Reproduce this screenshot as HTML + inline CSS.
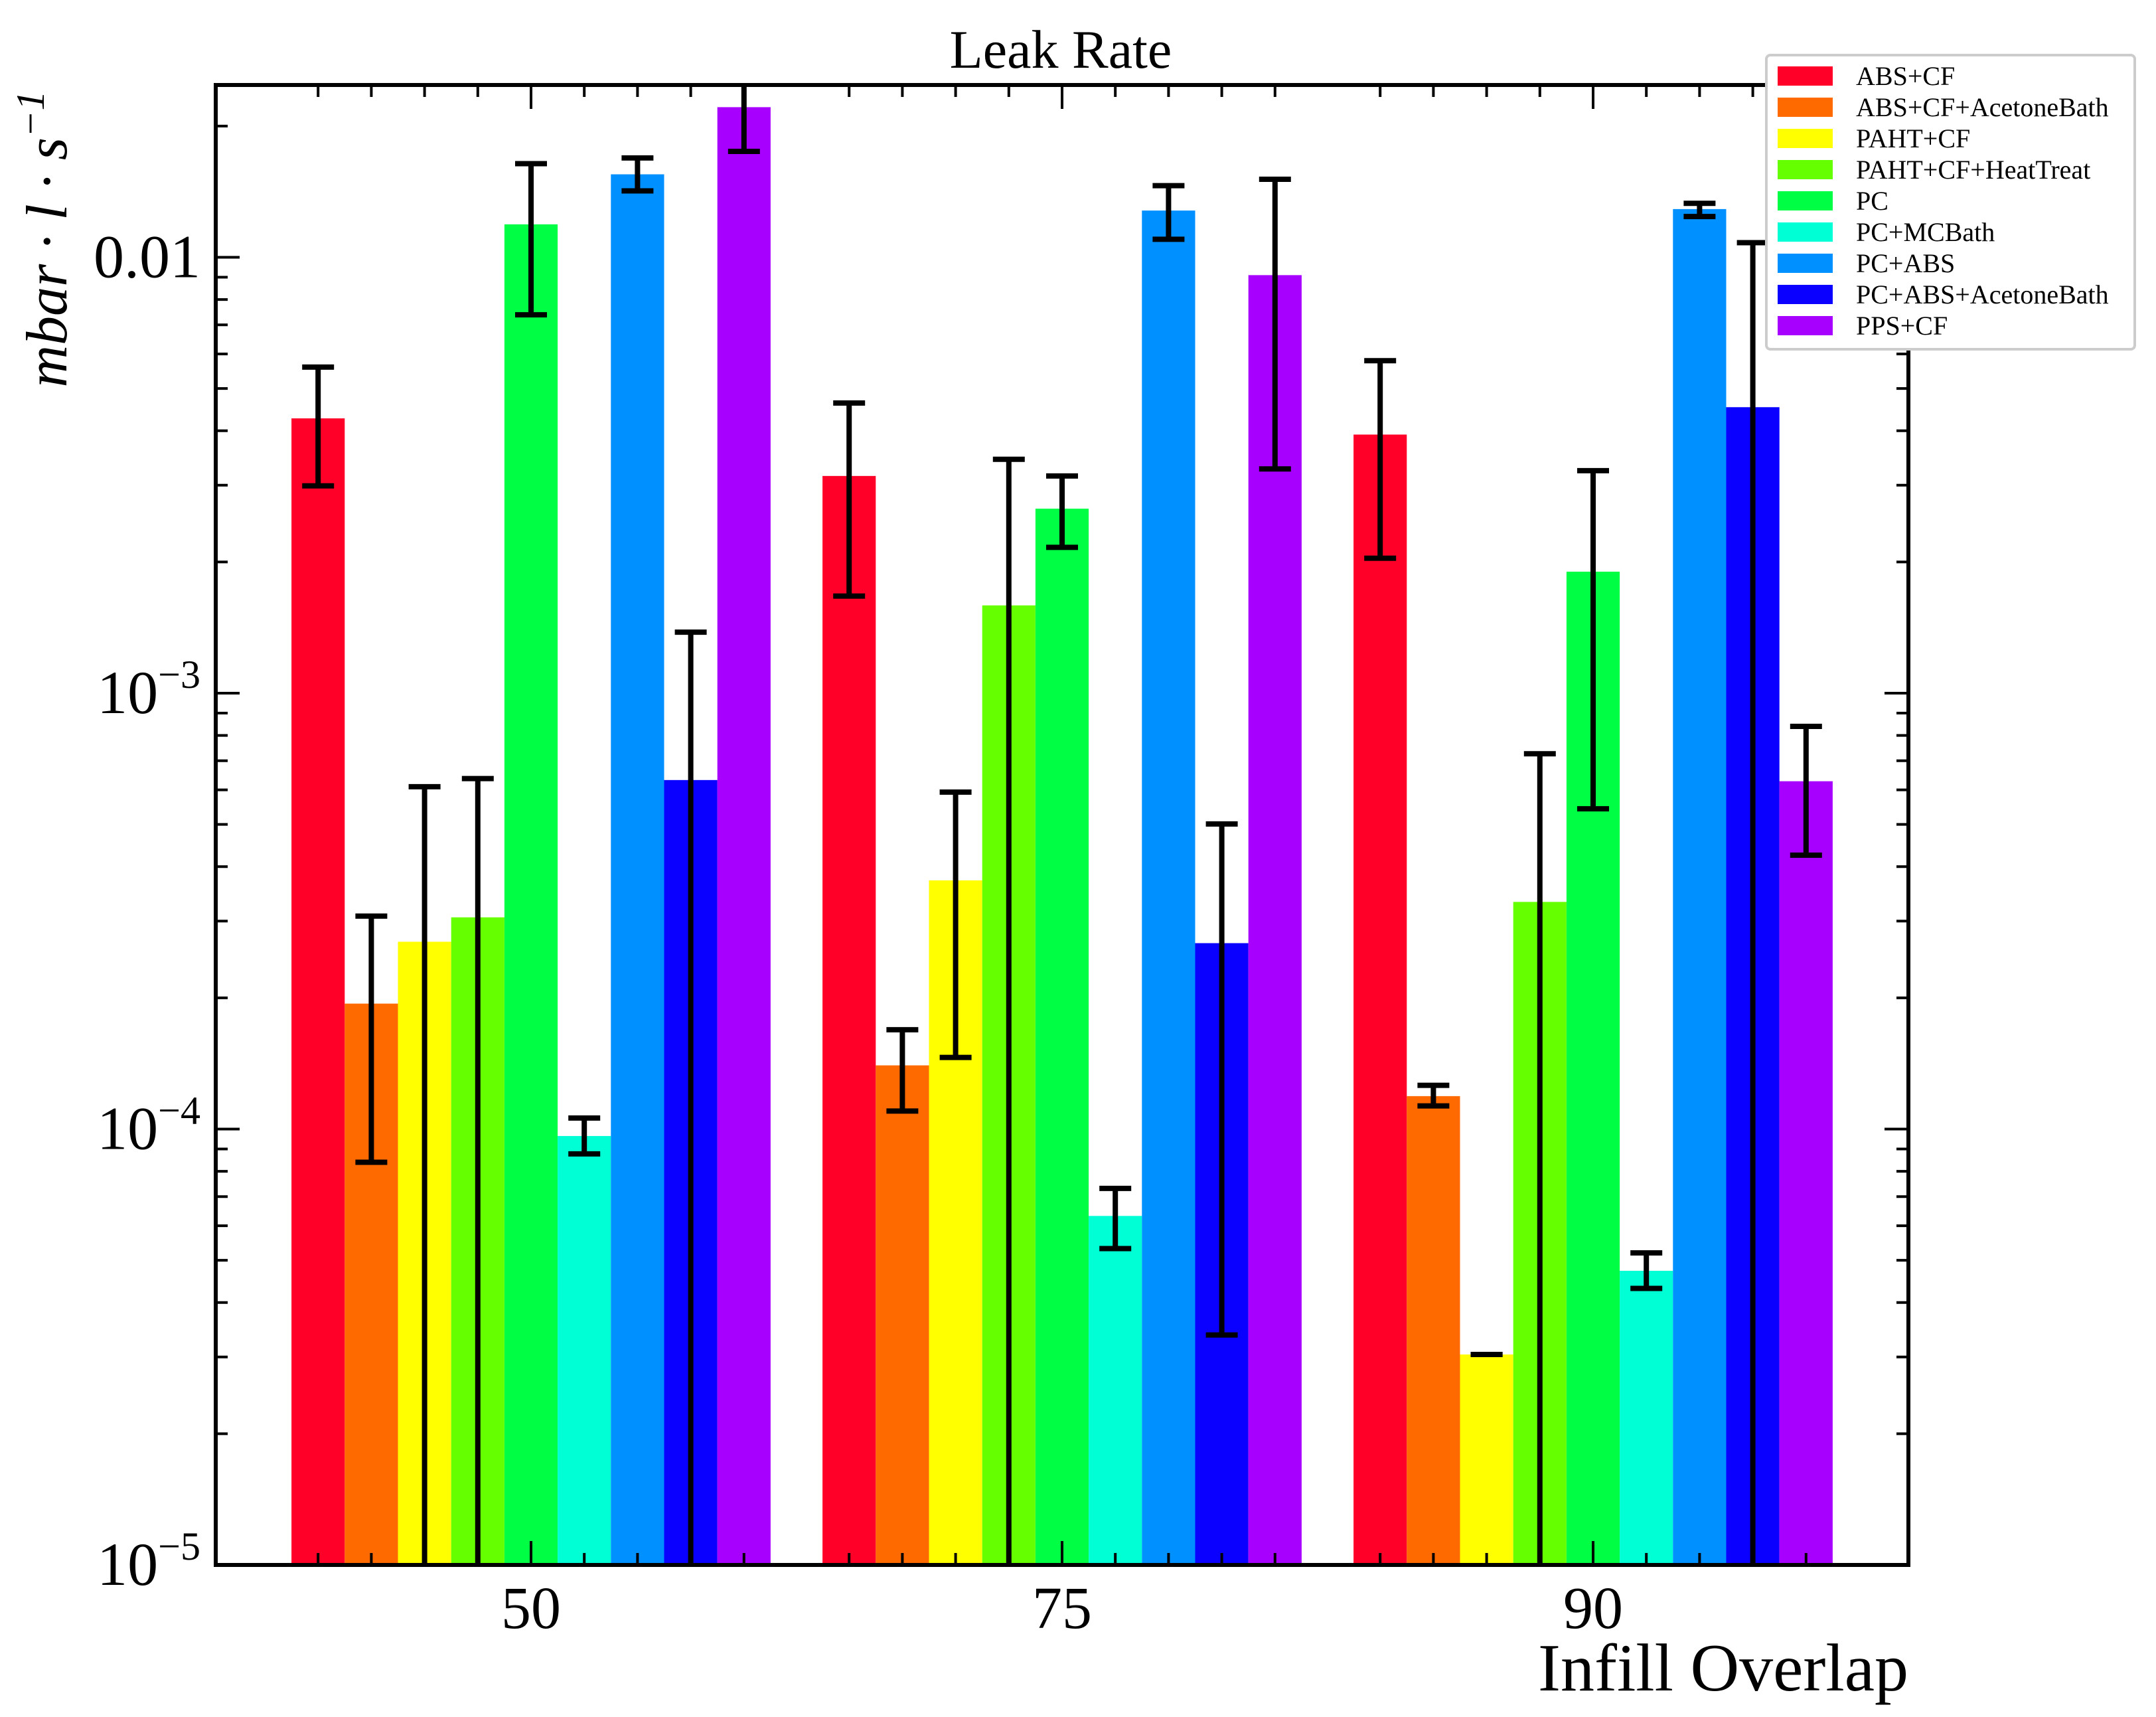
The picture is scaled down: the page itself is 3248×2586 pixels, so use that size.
<!DOCTYPE html>
<html><head><meta charset="utf-8"><style>
html,body{margin:0;padding:0;background:#fff;}
svg{display:block;font-family:"Liberation Serif",serif;}
</style></head><body>
<svg id="chart" width="3248" height="2586" viewBox="0 0 3248 2586" xmlns="http://www.w3.org/2000/svg">
<g id="bars"></g>
<g id="errs"></g>
<g id="axes"></g>
<text x="1598" y="102" font-size="82" text-anchor="middle">Leak Rate</text>
<text x="2875" y="2546" font-size="102" text-anchor="end">Infill Overlap</text>
<text transform="translate(100,360) rotate(-90)" font-size="88" font-style="italic" text-anchor="middle">mbar · l · s<tspan dy="-34" font-size="60">−1</tspan></text>
<g id="legend"></g>
</svg>
<script>
const categories = ["50","75","90"];
const seriesNames = ["ABS+CF","ABS+CF+AcetoneBath","PAHT+CF","PAHT+CF+HeatTreat","PC","PC+MCBath","PC+ABS","PC+ABS+AcetoneBath","PPS+CF"];
const seriesColors = ["#ff0028","#ff6a00","#ffff00","#66ff00","#00ff44","#00ffd5","#0090ff","#0a00ff","#a800ff"];
// values per series: [50,75,90]
const values = [
 [4.27e-3, 3.15e-3, 3.92e-3],
 [1.94e-4, 1.40e-4, 1.19e-4],
 [2.69e-4, 3.72e-4, 3.04e-5],
 [3.06e-4, 1.59e-3, 3.32e-4],
 [1.19e-2, 2.65e-3, 1.90e-3],
 [9.64e-5, 6.32e-5, 4.73e-5],
 [1.55e-2, 1.28e-2, 1.29e-2],
 [6.32e-4, 2.67e-4, 4.53e-3],
 [2.21e-2, 9.10e-3, 6.28e-4]
];
const errHigh = [
 [5.60e-3, 4.63e-3, 5.79e-3],
 [3.08e-4, 1.69e-4, 1.26e-4],
 [6.10e-4, 5.93e-4, 3.04e-5],
 [6.37e-4, 3.44e-3, 7.26e-4],
 [1.64e-2, 3.15e-3, 3.24e-3],
 [1.06e-4, 7.31e-5, 5.20e-5],
 [1.69e-2, 1.46e-2, 1.33e-2],
 [1.38e-3, 5.01e-4, 1.08e-2],
 [3.0e-2, 1.51e-2, 8.39e-4]
];
const errLow = [
 [2.99e-3, 1.67e-3, 2.04e-3],
 [8.39e-5, 1.10e-4, 1.13e-4],
 [1e-6, 1.46e-4, 3.04e-5],
 [1e-6, 1e-6, 1e-6],
 [7.38e-3, 2.16e-3, 5.43e-4],
 [8.77e-5, 5.32e-5, 4.31e-5],
 [1.42e-2, 1.10e-2, 1.24e-2],
 [1e-6, 3.37e-5, 1e-6],
 [1.75e-2, 3.27e-3, 4.25e-4]
];
const yTickValues = [1e-5,1e-4,1e-3,1e-2];
const yTickLabels = ["10<tspan dy='-38' font-size='60'>−5</tspan>","10<tspan dy='-38' font-size='60'>−4</tspan>","10<tspan dy='-38' font-size='60'>−3</tspan>","0.01"];

const L=325,R=2875,T=128,B=2357;
const decade=656.5;
const ymin=-5;
function y(v){let lv=Math.log10(v);let p=B-(lv-ymin)*decade;return Math.max(T,Math.min(B,p));}
const groupSpacing=800, groupCenter0=800, barW=80.2;
function gx(g){return groupCenter0+g*groupSpacing;}
function bx(g,s){return gx(g)+(s-4)*barW;}
const NS="http://www.w3.org/2000/svg";
function el(tag,attrs,parent){const e=document.createElementNS(NS,tag);for(const k in attrs)e.setAttribute(k,attrs[k]);parent.appendChild(e);return e;}
const bars=document.getElementById('bars'),errs=document.getElementById('errs'),axes=document.getElementById('axes'),legend=document.getElementById('legend');
for(let s=0;s<seriesNames.length;s++){for(let g=0;g<categories.length;g++){
 const cx=bx(g,s),top=y(values[s][g]);
 const r=el('rect',{x:cx-barW/2,y:top,width:barW,height:B-top,fill:seriesColors[s]},bars);
 
 
 const hi=y(errHigh[s][g]),lo=y(errLow[s][g]);
 const eg=el('g',{stroke:'#000','stroke-width':8},errs);
 
 
 el('line',{x1:cx,x2:cx,y1:hi,y2:lo},eg);
 if(hi>T)el('line',{x1:cx-24,x2:cx+24,y1:hi,y2:hi},eg);
 if(lo<B)el('line',{x1:cx-24,x2:cx+24,y1:lo,y2:lo},eg);
}}
const fr=el('rect',{x:L,y:T,width:R-L,height:B-T,fill:'none',stroke:'#000','stroke-width':6},axes);


for(let d=-5;d<=-2;d++){for(let m=1;m<10;m++){const v=m*Math.pow(10,d);const p=y(v);if(p<=T)continue;
 const len=m==1?36:18;
 el('line',{x1:L,x2:L+len,y1:p,y2:p,stroke:'#000','stroke-width':4},axes);
 el('line',{x1:R,x2:R-len,y1:p,y2:p,stroke:'#000','stroke-width':4},axes);}}
yTickValues.forEach((v,i)=>{const t=el('text',{x:302,y:y(v)+30,'font-size':92,'text-anchor':'end'},axes);t.innerHTML=yTickLabels[i];
 
 });
for(let g=0;g<categories.length;g++){for(let s=0;s<9;s++){const p=bx(g,s),len=s==4?36:18;
 el('line',{x1:p,x2:p,y1:B,y2:B-len,stroke:'#000','stroke-width':4},axes);
 el('line',{x1:p,x2:p,y1:T,y2:T+len,stroke:'#000','stroke-width':4},axes);}
 const t=el('text',{x:gx(g),y:2452,'font-size':90,'text-anchor':'middle'},axes);t.textContent=categories[g];
 
 }
const lb=el('rect',{x:2661,y:83,width:555,height:443,fill:'#fff',stroke:'#ccc','stroke-width':4,rx:6},legend);


seriesNames.forEach((n,i)=>{const yy=100+i*47;
 const g=el('g',{},legend);
 
 
 el('rect',{x:2678,y:yy,width:83,height:29,fill:seriesColors[i]},g);
 const t=el('text',{x:2796,y:yy+28,'font-size':40},g);t.textContent=n;});
</script>
</body></html>
